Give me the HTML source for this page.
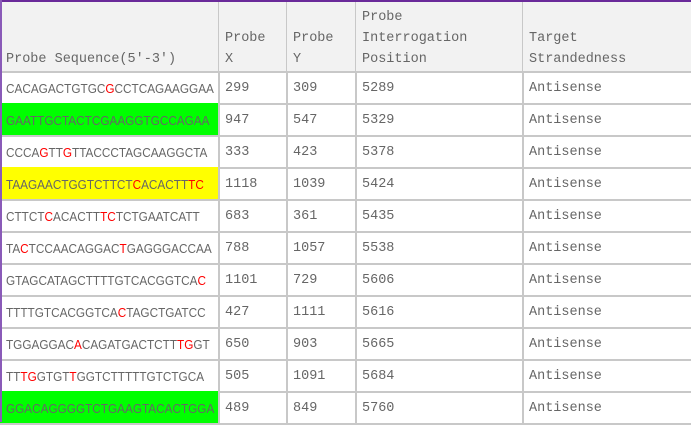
<!DOCTYPE html>
<html><head><meta charset="utf-8"><style>
body{margin:0;width:691px;height:422px;overflow:hidden;background:#fff;position:relative}
.c{position:absolute;box-sizing:border-box;border-right:2px solid #c8c8c8;border-bottom:2px solid #c8c8c8;color:#666;font-family:"Liberation Mono",monospace;font-size:13.5px;padding-left:6px;padding-top:3px;display:flex;align-items:center;white-space:nowrap;overflow:hidden}
.h{background:#f2f2f2;align-items:flex-end;padding-top:0;padding-bottom:1px;line-height:21px}
.s{font-family:"Liberation Sans",sans-serif;font-size:13px}
.s .w{display:inline-block;transform:scaleX(0.905);transform-origin:0 50%}
.r{color:#f00}
.g{background:#00ff00}.y{background:#ffff00}
</style></head><body>
<div style="position:absolute;left:0;top:0;width:691px;height:2px;background:#6a2a9a;z-index:2"></div>
<div style="position:absolute;left:0;top:0;width:2px;height:422px;background:#8a5ab8;z-index:2"></div>
<div id="t"></div>
<script>
const cols=[0,219,287,356,523,691];
const headers=["Probe Sequence(5'-3')","Probe<br>X","Probe<br>Y","Probe<br>Interrogation<br>Position","Target<br>Strandedness"];
const headerNames=['header-sequence','header-probe-x','header-probe-y','header-position','header-strandedness'];
const seqs=["CACAGACTGTGC[G]CCTCAGAAGGAA","GAATTGCTACTCGAAGGTGCCAGAA","CCCA[G]TT[G]TTACCCTAGCAAGGCTA","TAAGAACTGGTCTTCT[C]ACACTT[TC]","CTTCT[C]ACACTT[TC]TCTGAATCATT","TA[C]TCCAACAGGAC[T]GAGGGACCAA","GTAGCATAGCTTTTGTCACGGTCA[C]","TTTTGTCACGGTCA[C]TAGCTGATCC","TGGAGGAC[A]CAGATGACTCTT[TG]GT","TT[TG]GTGT[T]GGTCTTTTTGTCTGCA","GGACAGGGGTCTGAAGTACACTGGA"];
const hl=["","g","","y","","","","","","","g"];
const xs=[299,947,333,1118,683,788,1101,427,650,505,489];
const ys=[309,547,423,1039,361,1057,729,1111,903,1091,849];
const pos=[5289,5329,5378,5424,5435,5538,5606,5616,5665,5684,5760];
const strand=Array(11).fill("Antisense");
const t=document.getElementById('t');
function cell(ci,top,h,html,cls){const d=document.createElement('div');d.className='c '+cls;d.style.left=cols[ci]+'px';d.style.top=top+'px';d.style.width=(cols[ci+1]-cols[ci]+(ci<4?1:0))+'px';d.style.height=h+'px';if(ci==4)d.style.borderRight='none';d.innerHTML=html;t.appendChild(d);return d;}
headers.forEach((h,i)=>{const d=cell(i,0,73,h,'h');

});
seqs.forEach((s,r)=>{const top=71+r*32;
const html='<span class="w">'+s.replace(/\[(\w+)\]/g,'<span class="r">$1</span>')+'</span>';
const a=cell(0,top,34,html,'s '+hl[r]);


const b=cell(1,top,34,xs[r],'');


const c=cell(2,top,34,ys[r],'');


const d=cell(3,top,34,pos[r],'');


const e=cell(4,top,34,strand[r],'');

});
</script>
</body></html>
